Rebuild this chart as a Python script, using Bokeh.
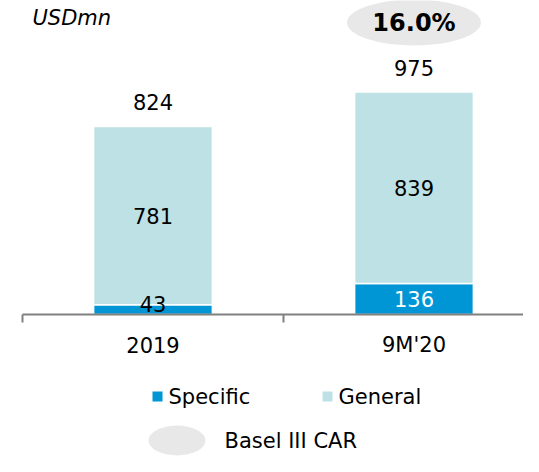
import numpy as np
from bokeh.plotting import figure
from bokeh.models import Range1d, LinearAxis, FixedTicker
from bokeh.core.properties import value
from bokeh.embed import file_html
from bokeh.resources import INLINE

# ---- data ----
categories = ["2019", "9M'20"]
specific = [43, 136]
general = [781, 839]
totals = [824, 975]
car_values = ["", "16.0%"]
unit_label = "USDmn"
legend_labels = ["Specific", "General"]
car_legend = "Basel III CAR"

# ---- style ----
BLUE = "#0096D6"
TEAL = "#BDE1E4"
GREY_ELL = "#E8E8E8"
AXIS = "#808080"
FONT = value("DejaVu Sans")
FS = "21px"

W, H = 523, 456
xpx = 2 / 522          # data units per pixel (x)
ypx = 1 / 0.2282       # data units per pixel (y)
x0 = -22 * xpx
y_top = 314 * ypx
y_bot = y_top - H * ypx

p = figure(width=W, height=H, x_range=Range1d(x0, x0 + W * xpx),
           y_range=Range1d(y_bot, y_top), output_backend="svg",
           toolbar_location=None, x_axis_location=None, y_axis_location=None,
           min_border=0, outline_line_color=None)
p.grid.visible = False
p.background_fill_color = "white"
p.border_fill_color = "white"

xpos = np.arange(len(categories)) + 0.5
spec = np.array(specific, dtype=float)
gen = np.array(general, dtype=float)
tot = np.array(totals, dtype=float)
bw = 0.455

p.vbar(x=xpos, width=bw, bottom=0, top=spec, fill_color=BLUE,
       line_color="white", line_width=1.5)
p.vbar(x=xpos, width=bw, bottom=spec, top=spec + gen, fill_color=TEAL,
       line_color="white", line_width=1.5)

# axis through y = 0 with ticks at category boundaries
ax = LinearAxis(fixed_location=0, bounds=(0, len(categories)),
                ticker=FixedTicker(ticks=list(range(len(categories) + 1)), minor_ticks=[]),
                major_label_text_alpha=0, major_label_text_font_size="1px",
                axis_line_color=AXIS, axis_line_width=2,
                major_tick_line_color=AXIS, major_tick_line_width=2,
                major_tick_out=8, major_tick_in=0, minor_tick_out=0, minor_tick_in=0)
p.add_layout(ax, "below")

common = dict(text_font=FONT, text_font_size=FS, text_align="center",
              text_baseline="middle")

# value labels
p.text(x=xpos, y=tot, text=[str(v) for v in totals], y_offset=-24,
       text_color="black", **common)
p.text(x=xpos, y=spec + gen / 2, text=[str(v) for v in general],
       text_color="black", **common)
p.text(x=xpos, y=np.maximum(spec / 2, 48), text=[str(v) for v in specific],
       text_color=["black" if v < 80 else "white" for v in specific], **common)

# category labels
p.text(x=xpos, y=0, text=categories, y_offset=30, text_color="black", **common)

# CAR bubble
car_idx = [i for i, c in enumerate(car_values) if c]
car_y = y_top - 22 * ypx
p.ellipse(x=xpos[car_idx], y=car_y, width=134, height=46,
          width_units="screen", height_units="screen",
          fill_color=GREY_ELL, line_color=None)
p.text(x=xpos[car_idx], y=car_y, text=[car_values[i] for i in car_idx],
       text_font=FONT, text_font_size="24px", text_font_style="bold",
       text_align="center", text_baseline="middle", text_color="black")

# unit label
p.text(x=[10 * xpx], y=[y_top - 17 * ypx], text=[unit_label], text_font=FONT,
       text_font_size=FS, text_font_style="italic", text_align="left",
       text_baseline="alphabetic", text_color="black")

# legend
leg_y = -82 * ypx
p.scatter(x=[135 * xpx, 305 * xpx], y=[leg_y, leg_y], marker="square", size=10,
          fill_color=[BLUE, TEAL], line_color=None)
p.text(x=[146 * xpx, 316 * xpx], y=[leg_y, leg_y], text=legend_labels,
       text_font=FONT, text_font_size=FS, text_align="left",
       text_baseline="middle", text_color="black")

car_leg_y = -126 * ypx
p.ellipse(x=[154.5 * xpx], y=[car_leg_y], width=57, height=30,
          width_units="screen", height_units="screen",
          fill_color=GREY_ELL, line_color=None)
p.text(x=[202 * xpx], y=[car_leg_y], text=[car_legend], text_font=FONT,
       text_font_size=FS, text_align="left", text_baseline="middle",
       text_color="black")

open("out.html", "w").write(file_html(p, INLINE))
